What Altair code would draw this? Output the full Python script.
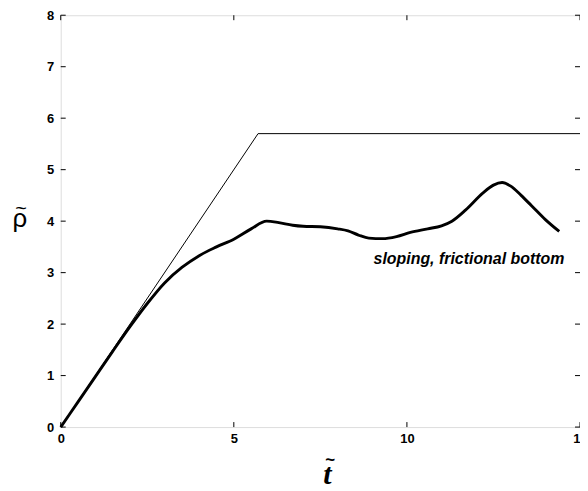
import altair as alt
import pandas as pd

# thin reference line (piecewise linear)
ref_t = [0.0, 5.7, 15.0]
ref_rho = [0.0, 5.7, 5.7]

# thick curve: sloping, frictional bottom
cur_t = [0.0, 0.5, 1.0, 1.5, 2.0, 2.5, 3.0, 3.5, 4.0, 4.5, 5.0, 5.5, 5.95, 6.3, 6.7, 7.0,
         7.5, 8.0, 8.3, 8.6, 8.9, 9.3, 9.7, 10.1, 10.6, 11.0, 11.3, 11.7, 12.2, 12.5, 12.75,
         13.0, 13.3, 13.6, 14.0, 14.4]
cur_rho = [0.0, 0.49, 0.98, 1.47, 1.95, 2.40, 2.80, 3.10, 3.33, 3.50, 3.65, 3.85, 4.00,
           3.97, 3.92, 3.90, 3.89, 3.85, 3.81, 3.73, 3.67, 3.66, 3.70, 3.78, 3.85, 3.91,
           4.00, 4.22, 4.55, 4.70, 4.75, 4.68, 4.50, 4.30, 4.03, 3.80]

x_ticks = [0, 5, 10, 15]
y_ticks = [0, 1, 2, 3, 4, 5, 6, 7, 8]

label_text = ["sloping, frictional bottom"]
label_t = [14.55]
label_rho = [3.27]

W, H = 522, 414
xs = alt.Scale(domain=[0, 15], nice=False, zero=False)
ys = alt.Scale(domain=[0, 8], nice=False, zero=False)

ref_df = pd.DataFrame({"t": ref_t, "rho": ref_rho})
cur_df = pd.DataFrame({"t": cur_t, "rho": cur_rho})
xt_df = pd.DataFrame({"v": x_ticks})
yt_df = pd.DataFrame({"v": y_ticks})
lab_df = pd.DataFrame({"text": label_text, "t": label_t, "rho": label_rho})

base_x = alt.X("t:Q", scale=xs, title="", axis=alt.Axis(
    values=x_ticks, tickSize=0, labelPadding=6, labelFontSize=13, labelFontWeight="bold",
    labelFont="Liberation Sans", labelColor="black", grid=False, domain=False,
    labelFlush=False))
base_y = alt.Y("rho:Q", scale=ys, title="", axis=alt.Axis(
    values=y_ticks, tickSize=0, labelPadding=7, labelFontSize=13, labelFontWeight="bold",
    labelFont="Liberation Sans", labelColor="black", grid=False, domain=False,
    labelFlush=False))

ref = alt.Chart(ref_df).mark_line(color="black", strokeWidth=1).encode(x=base_x, y=base_y)
cur = alt.Chart(cur_df).mark_line(color="black", strokeWidth=2.9, interpolate="monotone").encode(
    x="t:Q", y="rho:Q")

tk = 5
bot = alt.Chart(xt_df).mark_rule(color="black").encode(
    x=alt.X("v:Q", scale=xs), y=alt.value(H), y2=alt.value(H - tk))
top = alt.Chart(xt_df).mark_rule(color="black").encode(
    x=alt.X("v:Q", scale=xs), y=alt.value(0), y2=alt.value(tk))
lef = alt.Chart(yt_df).mark_rule(color="black").encode(
    y=alt.Y("v:Q", scale=ys), x=alt.value(0), x2=alt.value(tk))
rig = alt.Chart(yt_df).mark_rule(color="black").encode(
    y=alt.Y("v:Q", scale=ys), x=alt.value(W), x2=alt.value(W - tk))

lab = alt.Chart(lab_df).mark_text(
    align="right", baseline="middle", font="Liberation Sans", fontSize=16,
    fontWeight="bold", fontStyle="italic", color="black").encode(
    x="t:Q", y="rho:Q", text="text:N")

# axis titles: rho-tilde and t-tilde (tilde drawn as separate glyph)
ytitle = alt.Chart(lab_df).mark_text(
    align="center", baseline="alphabetic", font="Liberation Sans", fontSize=26,
    color="black").encode(x=alt.value(-41), y=alt.value(213), text=alt.value("\u03c1"))
ytilde = alt.Chart(lab_df).mark_text(
    align="center", baseline="middle", font="Liberation Sans", fontSize=20,
    color="black").encode(x=alt.value(-40), y=alt.value(195), text=alt.value("~"))
xtitle = alt.Chart(lab_df).mark_text(
    align="center", baseline="alphabetic", font="Liberation Serif", fontSize=30,
    fontWeight="bold", fontStyle="italic", color="black").encode(
    x=alt.value(268), y=alt.value(471), text=alt.value("t"))
xtilde = alt.Chart(lab_df).mark_text(
    align="center", baseline="middle", font="Liberation Sans", fontSize=17,
    fontWeight="bold", color="black").encode(
    x=alt.value(271), y=alt.value(447), text=alt.value("~"))

chart = alt.layer(ref, cur, bot, top, lef, rig, lab, ytitle, ytilde, xtitle, xtilde).properties(
    width=W, height=H,
    autosize=alt.AutoSizeParams(type="none"),
    padding={"left": 53, "top": 6, "right": 0, "bottom": 62},
).configure_view(stroke="black", strokeWidth=1).configure(background="white")

chart.save("out.html", embed_options={"renderer": "svg", "actions": False})
